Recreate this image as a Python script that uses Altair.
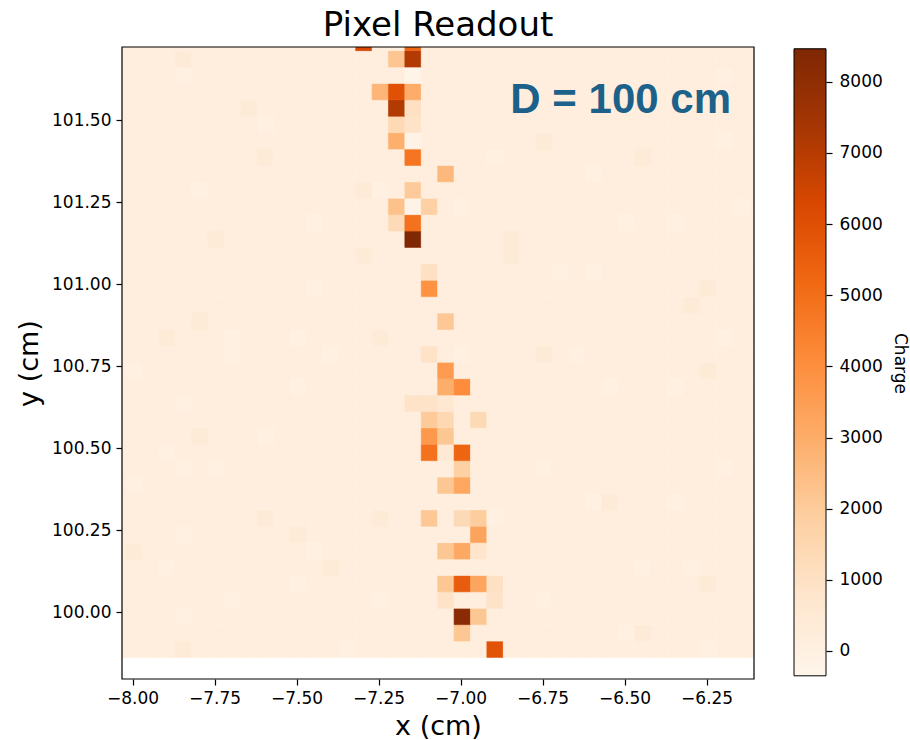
import altair as alt
import pandas as pd

# ---------------- data ----------------
PITCH = 0.05            # pixel pitch (cm)
X_EDGE0 = -8.07         # left edge of column 0 (cm)
Y_EDGE0 = 99.8625       # bottom edge of row 0 (cm)
N_COLS = 40
N_ROWS = 38

# background (noise) level and the noticeably darker / lighter noise pixels (col, row)
BG_LEVEL = 200
BG_DARK = 400
BG_LIGHT = 20
dark_cols = [4, 8, 9, 15, 6, 3, 5, 15, 16, 5, 24, 26, 32, 24, 26, 35, 36, 36, 9, 11, 1, 13, 4, 16, 30, 32, 36]
dark_rows = [36, 33, 30, 28, 25, 19, 20, 24, 19, 13, 25, 31, 30, 24, 18, 21, 22, 17, 8, 7, 6, 5, 0, 8, 9, 1, 4]
light_cols = [4, 5, 16, 9, 12, 7, 7, 11, 12, 13, 11, 9, 4, 1, 23, 29, 21, 31, 37, 37, 38, 34, 28, 30, 21,
              27, 29, 34, 37, 4, 6, 1, 3, 4, 12, 11, 16, 4, 14, 7, 26, 37, 29, 34, 32, 35, 26, 31, 36, 23, 3]
light_rows = [35, 28, 28, 32, 26, 19, 18, 19, 22, 18, 16, 13, 15, 17, 30, 29, 27, 26, 35, 31, 27, 26, 18, 16, 18,
              23, 23, 16, 19, 11, 11, 10, 5, 7, 6, 4, 3, 2, 0, 3, 11, 11, 9, 9, 5, 5, 3, 1, 0, 8, 12]

# track hits
hit_col = [15, 18, 17, 18, 18, 16, 17, 18, 17, 18, 17, 18, 17, 18, 18, 20, 18, 17, 18, 19,
           17, 18, 18, 19, 19, 20, 19, 20, 20, 21, 18, 19, 20, 19, 20, 22, 19, 20, 19, 20,
           21, 21, 20, 21, 19, 21, 22, 22, 20, 21, 22, 20, 21, 22, 23, 20, 23, 21, 22, 21, 23]
hit_row = [37, 37, 36, 36, 35, 34, 34, 34, 33, 33, 32, 32, 31, 31, 30, 29, 28, 27, 27, 27,
           26, 26, 25, 23, 22, 20, 18, 17, 16, 16, 15, 15, 15, 14, 14, 14, 13, 13, 12, 12,
           12, 11, 10, 10, 8, 8, 8, 7, 6, 6, 6, 4, 4, 4, 4, 3, 3, 2, 2, 1, 0]
hit_charge = [6300, 5300, 2200, 7100, -250, 2700, 5950, 3000, 7100, 1050, 1400, 900, 2900, -150, 4800,
              2600, 2000, 2300, -200, 1800, 1300, 4900, 8450, 1050, 3900, 2100, 900, 3600, 2950, 4050,
              900, 900, 600, 2000, 1450, 1350, 3650, 2150, 4900, 520, 5300, 1800, 2150, 3200, 2100,
              1340, 1950, 3300, 2150, 3150, 800, 2150, 5550, 3250, 1050, 900, 900, 8150, 2150, 2150, 5900]

VMIN, VMAX = -350, 8465
ORANGES = ["#fff5eb", "#fee6ce", "#fdd0a2", "#fdae6b", "#fd8d3c", "#f16913", "#d94801", "#a63603", "#7f2704"]

X_DOMAIN = [-8.0323, -6.1056]
Y_DOMAIN = [99.7968, 101.7236]
X_TICKS = [-8.0, -7.75, -7.5, -7.25, -7.0, -6.75, -6.5, -6.25]
Y_TICKS = [100.0, 100.25, 100.5, 100.75, 101.0, 101.25, 101.5]
CB_TICKS = [0, 1000, 2000, 3000, 4000, 5000, 6000, 7000, 8000]

# ---------------- table ----------------
grid = [[BG_LEVEL] * N_COLS for _ in range(N_ROWS)]
for c, r in zip(dark_cols, dark_rows):
    grid[r][c] = BG_DARK
for c, r in zip(light_cols, light_rows):
    grid[r][c] = BG_LIGHT
for c, r, q in zip(hit_col, hit_row, hit_charge):
    grid[r][c] = q

records = []
for r in range(N_ROWS):
    for c in range(N_COLS):
        records.append({
            "x0": X_EDGE0 + PITCH * c, "x1": X_EDGE0 + PITCH * (c + 1),
            "y0": Y_EDGE0 + PITCH * r, "y1": Y_EDGE0 + PITCH * (r + 1),
            "charge": grid[r][c],
        })
df = pd.DataFrame(records)

W = 632
H = 632
FONT = "DejaVu Sans"

cdom = [VMIN + (VMAX - VMIN) * i / 8 for i in range(9)]
cscale = alt.Scale(domain=cdom, range=ORANGES, interpolate="rgb")

heat = alt.Chart(df).mark_rect(clip=True, strokeWidth=0.6).encode(
    x=alt.X("x0:Q", scale=alt.Scale(domain=X_DOMAIN, nice=False, zero=False),
            axis=alt.Axis(values=X_TICKS, format=".2f", title="x (cm)", grid=False, domain=False,
                          titlePadding=7)),
    x2="x1:Q",
    y=alt.Y("y0:Q", scale=alt.Scale(domain=Y_DOMAIN, nice=False, zero=False),
            axis=alt.Axis(values=Y_TICKS, format=".2f", title="y (cm)", grid=False, domain=False,
                          titlePadding=8)),
    y2="y1:Q",
    color=alt.Color("charge:Q", scale=cscale, legend=None),
    stroke=alt.Stroke("charge:Q", scale=cscale, legend=None),
)

frame = alt.Chart(pd.DataFrame({"k": [0]})).mark_rect(fill=None, stroke="black", strokeWidth=1.2).encode(
    x=alt.value(0), x2=alt.value(W), y=alt.value(0), y2=alt.value(H))

# colour bar: bar spans VMIN..VMAX, axis domain padded so the bar sits 2-3 px inside the plot height
CB_DOMAIN = [VMIN - 45, VMAX + 25]
cb_df = pd.DataFrame({"lo": [VMIN], "hi": [VMAX]})
grad = alt.LinearGradient(
    gradient="linear",
    stops=[alt.GradientStop(offset=i / 8, color=c) for i, c in enumerate(ORANGES)],
    x1=0, x2=0, y1=1, y2=0,
)
cbar = alt.Chart(cb_df).mark_rect(fill=grad, stroke="black", strokeWidth=1, clip=False).encode(
    x=alt.value(672), x2=alt.value(704),
    y=alt.Y("lo:Q", scale=alt.Scale(domain=CB_DOMAIN, nice=False, zero=False),
            axis=alt.Axis(orient="right", offset=72, values=CB_TICKS, format="d", title="Charge",
                          titleAngle=90, titleFontSize=17, titlePadding=8, grid=False, domain=False,
                          labelPadding=7)),
    y2="hi:Q",
)

note = alt.Chart(pd.DataFrame({"t": ["D = 100 cm"]})).mark_text(
    font="Liberation Sans", fontWeight="bold", fontSize=42, color="#1c6189",
    align="right", baseline="alphabetic").encode(
    x=alt.value(609), y=alt.value(66), text="t:N")

chart = alt.layer(heat, frame, note, cbar).resolve_scale(y="independent").properties(
    width=W, height=H,
    title=alt.TitleParams("Pixel Readout", font=FONT, fontSize=34, fontWeight="normal",
                          anchor="middle", offset=3, color="black"),
    padding={"left": 122, "top": 47, "right": 156, "bottom": 61},
    autosize=alt.AutoSizeParams(type="none"),
).configure_view(stroke=None).configure_axis(
    labelFont=FONT, labelFontSize=17, labelColor="black", tickColor="black", tickSize=6,
    tickWidth=1.2, domainColor="black", titleFont=FONT, titleFontSize=27, titleFontWeight="normal",
    titleColor="black", labelPadding=5,
)

chart.save("out.html", embed_options={"renderer": "svg", "actions": False})
